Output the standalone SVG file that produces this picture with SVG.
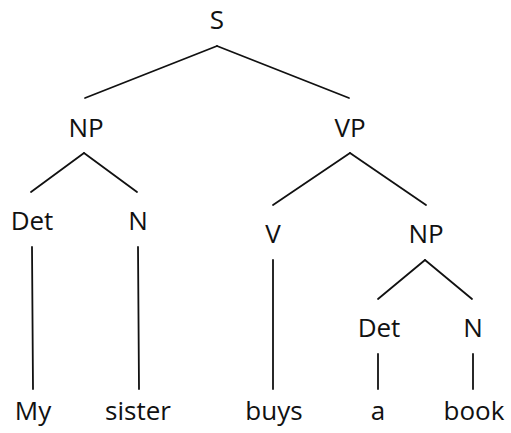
<svg xmlns="http://www.w3.org/2000/svg" width="511" height="433" viewBox="0 0 511 433">
<style>
text{font-family:"Open Sans","Liberation Sans",sans-serif;font-size:26px;fill:#111;text-anchor:middle}
line{stroke:#111;stroke-width:1.8;stroke-linecap:round}
</style>
<rect width="511" height="433" fill="#fff"/>
<g id="connectors">
<line x1="217" y1="46" x2="85" y2="98"/>
<line x1="217" y1="46" x2="349" y2="98"/>
<line x1="84" y1="153" x2="31" y2="192"/>
<line x1="84" y1="153" x2="137" y2="192"/>
<line x1="350" y1="153" x2="273" y2="205"/>
<line x1="350" y1="153" x2="426" y2="205"/>
<line x1="425" y1="260" x2="378" y2="299"/>
<line x1="425" y1="260" x2="472" y2="299"/>
<line x1="32" y1="247" x2="33" y2="389"/>
<line x1="138" y1="247" x2="139" y2="389"/>
<line x1="273" y1="260" x2="273" y2="389"/>
<line x1="378" y1="354" x2="378" y2="389"/>
<line x1="473" y1="354" x2="473" y2="389"/>
</g>
<g id="S"><text x="217" y="29">S</text></g>
<g id="NP1"><text x="86" y="137">NP</text></g>
<g id="VP"><text x="350" y="137">VP</text></g>
<g id="Det1"><text x="32" y="230">Det</text></g>
<g id="N1"><text x="138" y="230">N</text></g>
<g id="V"><text x="273" y="243">V</text></g>
<g id="NP2"><text x="426" y="243">NP</text></g>
<g id="Det2"><text x="379" y="337">Det</text></g>
<g id="N2"><text x="473" y="337">N</text></g>
<g id="My"><text x="33" y="420">My</text></g>
<g id="sister"><text x="138" y="420">sister</text></g>
<g id="buys"><text x="274" y="420">buys</text></g>
<g id="a"><text x="378" y="420">a</text></g>
<g id="book"><text x="474" y="420">book</text></g>
</svg>
